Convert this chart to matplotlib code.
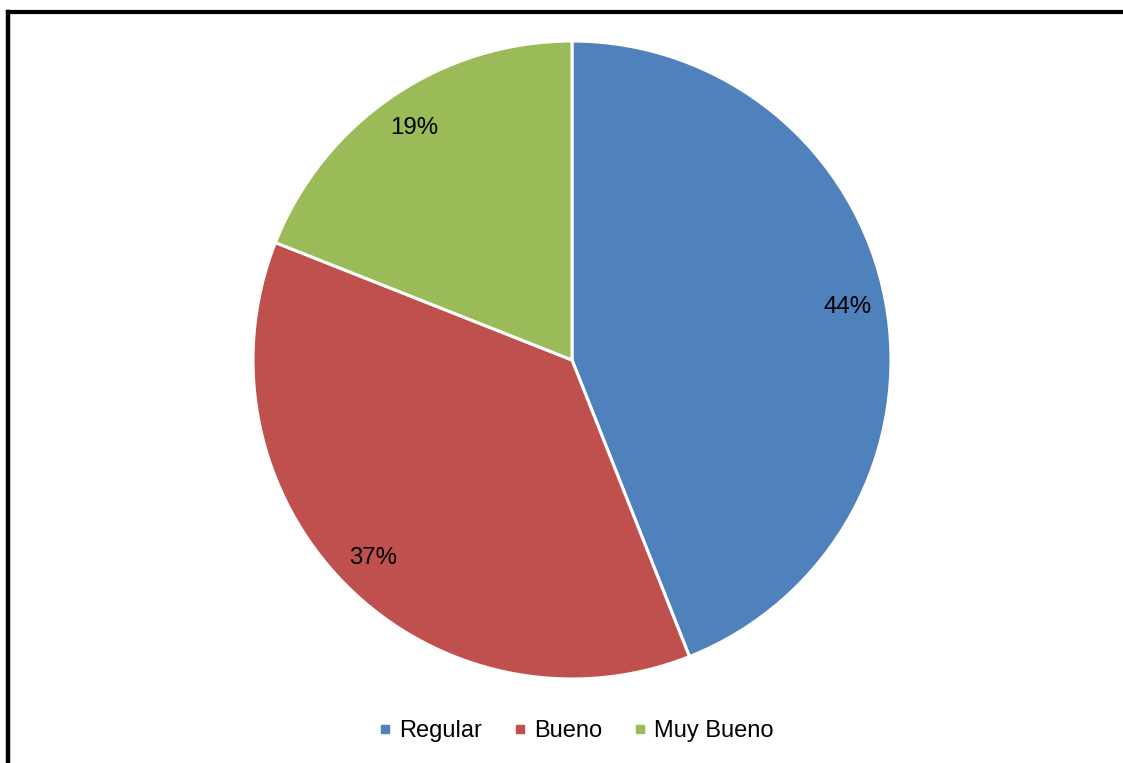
import matplotlib
matplotlib.use("Agg")
import matplotlib.pyplot as plt
from matplotlib.lines import Line2D

categories = ["Regular", "Bueno", "Muy Bueno"]
values = [44, 37, 19]
colors = ["#4F81BD", "#C0504D", "#9BBB59"]

plt.rcParams['font.family'] = ['Liberation Sans', 'DejaVu Sans']

W, H = 1123, 763
fig = plt.figure(figsize=(W / 100, H / 100), dpi=100)

cx, cy, R = 572, 360, 319
ax = fig.add_axes([(cx - R) / W, (H - cy - R) / H, 2 * R / W, 2 * R / H])
wedges, texts, autotexts = ax.pie(
    values, colors=colors, startangle=90, counterclock=False,
    autopct=lambda p: f"{p:.0f}%", pctdistance=0.88, radius=1.0,
    wedgeprops=dict(edgecolor="white", linewidth=2.2),
    textprops=dict(fontsize=17.3, color="black"))
ax.set_xlim(-1.0, 1.0)
ax.set_ylim(-1.0, 1.0)
ax.set_aspect("equal")
ax.axis("off")

handles = [Line2D([], [], marker="s", linestyle="none", markersize=5.5,
                  markerfacecolor=c, markeredgecolor=c) for c in colors]
fig.legend(handles, categories, loc="center", ncol=3,
           bbox_to_anchor=(576 / W, 1 - 731 / H), frameon=False,
           fontsize=17, handlelength=0.6, handletextpad=0.3,
           columnspacing=1.3, borderpad=0)

# border lines (left and top)
fig.add_artist(Line2D([7.5 / W, 7.5 / W], [0, 1 - 11.5 / H],
                      transform=fig.transFigure, color="black", linewidth=3.2,
                      solid_capstyle="projecting"))
fig.add_artist(Line2D([7.5 / W, 1.0], [1 - 11.5 / H, 1 - 11.5 / H],
                      transform=fig.transFigure, color="black", linewidth=3.0,
                      solid_capstyle="projecting"))

fig.savefig("out.png", dpi=100)
